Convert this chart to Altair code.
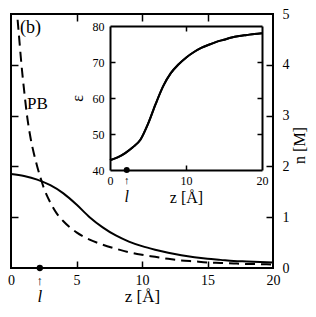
import altair as alt
import pandas as pd

# ---- data ----
z_model = [0, 1, 2, 3, 4, 5, 6, 7, 8, 9, 10, 11, 12, 13, 14, 15, 16, 17, 18, 19, 20]
n_model = [1.85, 1.81, 1.74, 1.63, 1.47, 1.25, 1.00, 0.80, 0.64, 0.52, 0.43,
           0.36, 0.30, 0.25, 0.21, 0.18, 0.16, 0.14, 0.13, 0.12, 0.11]

z_pb = [0.4, 0.5, 0.6, 0.8, 1.0, 1.25, 1.5, 1.75, 2.0, 2.25, 2.5, 3.0, 3.5, 4.0,
        5, 6, 7, 8, 9, 10, 11, 12, 13, 14, 15, 16, 17, 18, 19, 20]
n_pb = [5.2, 4.9, 4.6, 4.0, 3.5, 2.95, 2.55, 2.25, 2.0, 1.78, 1.58, 1.29, 1.07, 0.92,
        0.70, 0.56, 0.46, 0.38, 0.31, 0.26, 0.22, 0.18, 0.15, 0.13, 0.11, 0.10,
        0.09, 0.08, 0.075, 0.07]

z_eps = [0, 1, 2, 3, 4, 5, 6, 7, 8, 9, 10, 11, 12, 13, 14, 15, 16, 17, 18, 19, 20]
eps = [42.7, 43.5, 44.7, 46.3, 48.4, 52.8, 58.3, 63.3, 66.9, 69.3, 71.2, 72.7,
       73.9, 74.8, 75.6, 76.2, 76.8, 77.2, 77.5, 77.8, 78.0]

l_pos = 2.2
x_ticks_main = [0, 5, 10, 15, 20]
y_ticks_main = [0, 1, 2, 3, 4, 5]
x_ticks_inset = [0, 10, 20]
y_ticks_inset = [40, 50, 60, 70, 80]

df_model = pd.DataFrame({"z": z_model, "n": n_model})
df_pb = pd.DataFrame({"z": z_pb, "n": n_pb})
df_eps = pd.DataFrame({"z": z_eps, "eps": eps})
df_l = pd.DataFrame({"z": [l_pos]})

# ---- layout ----
PAD_L, PAD_T, PAD_R, PAD_B = 3, 6, 35, 39
W, H = 262, 254
# inset rectangle in plot-group pixels
IN_L, IN_R, IN_T, IN_B = 99, 251, 12, 156
FONT = "Liberation Serif, Times New Roman, serif"

xs = alt.Scale(domain=[0, 20], nice=False, zero=False)
ys = alt.Scale(domain=[0, 5], nice=False, zero=False)
xi = alt.Scale(domain=[0, 20], range=[IN_L, IN_R], nice=False, zero=False)
yi = alt.Scale(domain=[40, 80], range=[IN_B, IN_T], nice=False, zero=False)

tick_common = dict(labels=False, domain=False, title=None, tickColor="black",
                   tickWidth=1.5, grid=False)

# main axes
ax_x_lab = alt.Axis(orient="bottom", values=x_ticks_main, ticks=False, tickSize=0,
                    domain=False, labelFontSize=14, labelPadding=5, labelFlush=False,
                    labelFont=FONT, titleFont=FONT,
                    title="z [Å]", titleFontSize=17, titleFontWeight="normal",
                    titleX=W / 2, titleY=28, titleAlign="center", titleBaseline="middle",
                    labelColor="black", titleColor="black")
ax_y_lab = alt.Axis(orient="right", values=y_ticks_main, ticks=False, tickSize=0,
                    domain=False, labelFontSize=14, labelPadding=9, labelFlush=False,
                    labelFont=FONT, titleFont=FONT,
                    title="n [M]", titleFontSize=16, titleFontWeight="normal",
                    titleAngle=270, titleX=26, titleY=H / 2 + 4, titleAlign="center",
                    titleBaseline="middle", labelColor="black", titleColor="black")
ax_x_bot_ticks = alt.Axis(orient="top", offset=-H, values=[5, 10, 15], tickSize=7, **tick_common)
ax_x_top_ticks = alt.Axis(orient="bottom", offset=-H, values=[5, 10, 15], tickSize=7, **tick_common)
ax_y_right_ticks = alt.Axis(orient="left", offset=-W, values=[1, 2, 3, 4], tickSize=7, **tick_common)
ax_y_left_ticks = alt.Axis(orient="right", offset=-W, values=[1, 2, 3, 4], tickSize=7, **tick_common)

solid = alt.Chart(df_model).mark_line(color="black", strokeWidth=2, interpolate="monotone").encode(
    x=alt.X("z:Q", scale=xs, axis=ax_x_lab),
    y=alt.Y("n:Q", scale=ys, axis=ax_y_lab),
)
dashed = alt.Chart(df_pb).mark_line(color="black", strokeWidth=2, strokeDash=[10, 6],
                                    clip=True, interpolate="monotone").encode(
    x=alt.X("z:Q", scale=xs, axis=ax_x_bot_ticks),
    y=alt.Y("n:Q", scale=ys, axis=ax_y_right_ticks),
)
dot_main = alt.Chart(df_l).mark_circle(color="black", size=40, opacity=1).encode(
    x=alt.X("z:Q", scale=xs, axis=ax_x_top_ticks),
    y=alt.Y(datum=0, scale=ys, axis=ax_y_left_ticks),
)
arrow_main = alt.Chart(df_l).mark_text(text="↑", font=FONT, fontSize=13, dy=13,
                                       baseline="middle", color="black").encode(
    x=alt.X("z:Q", scale=xs, axis=None), y=alt.Y(datum=0, scale=ys, axis=None))
l_main = alt.Chart(df_l).mark_text(text="l", font=FONT, fontSize=17, fontStyle="italic",
                                   dy=29, baseline="middle", color="black").encode(
    x=alt.X("z:Q", scale=xs, axis=None), y=alt.Y(datum=0, scale=ys, axis=None))
label_b = alt.Chart(df_l).mark_text(text="(b)", font=FONT, fontSize=18, align="left",
                                    baseline="middle", color="black").encode(
    x=alt.X(datum=0.69, scale=xs, axis=None), y=alt.Y(datum=4.73, scale=ys, axis=None))
label_pb = alt.Chart(df_l).mark_text(text="PB", font=FONT, fontSize=17, align="left",
                                     baseline="middle", color="black").encode(
    x=alt.X(datum=1.22, scale=xs, axis=None), y=alt.Y(datum=3.22, scale=ys, axis=None))

main = alt.layer(solid, dashed, dot_main, arrow_main, l_main, label_b, label_pb).resolve_axis(
    x="independent", y="independent")

# inset axes
tick_in = dict(tickColor="black", tickWidth=1.5, grid=False)
dom_in = dict(domainColor="black", domainWidth=2)
ax_xi_lab = alt.Axis(orient="bottom", offset=-(H - IN_B), values=x_ticks_inset, ticks=False,
                     tickSize=0, domain=True, labelFontSize=12, labelPadding=5, labelFlush=False,
                     labelFont=FONT, titleFont=FONT,
                     title="z [Å]", titleFontSize=16, titleFontWeight="normal",
                     titleX=(IN_L + IN_R) / 2, titleY=27, titleAlign="center",
                     titleBaseline="middle",
                     labelColor="black", titleColor="black", grid=False, **dom_in)
ax_yi_lab = alt.Axis(orient="left", offset=-IN_L, values=y_ticks_inset, ticks=False,
                     tickSize=0, domain=True, labelFontSize=12, labelPadding=6, labelFlush=False,
                     labelFont=FONT, titleFont=FONT,
                     title="ε", titleFontSize=16, titleFontWeight="normal", titleAngle=270,
                     titleX=-33, titleY=(IN_T + IN_B) / 2, titleAlign="center",
                     titleBaseline="middle", labelColor="black", titleColor="black",
                     grid=False, **dom_in)
ax_xi_bot_ticks = alt.Axis(orient="top", offset=-IN_B, values=[10], tickSize=5, labels=False,
                           domain=False, title=None, **tick_in)
ax_yi_left_ticks = alt.Axis(orient="right", offset=-(W - IN_L), values=[50, 60, 70], tickSize=5,
                            labels=False, domain=False, title=None, **tick_in)
ax_xi_top = alt.Axis(orient="bottom", offset=-(H - IN_T), values=[10], tickSize=5, labels=False,
                     domain=True, title=None, **tick_in, **dom_in)
ax_yi_right = alt.Axis(orient="left", offset=-IN_R, values=[50, 60, 70], tickSize=5, labels=False,
                       domain=True, title=None, **tick_in, **dom_in)

eps_line = alt.Chart(df_eps).mark_line(color="black", strokeWidth=2, interpolate="monotone").encode(
    x=alt.X("z:Q", scale=xi, axis=ax_xi_lab),
    y=alt.Y("eps:Q", scale=yi, axis=ax_yi_lab),
)
eps_line2 = alt.Chart(df_eps).mark_line(color="black", strokeWidth=2, interpolate="monotone").encode(
    x=alt.X("z:Q", scale=xi, axis=ax_xi_bot_ticks),
    y=alt.Y("eps:Q", scale=yi, axis=ax_yi_left_ticks),
)
dot_in = alt.Chart(df_l).mark_circle(color="black", size=36, opacity=1).encode(
    x=alt.X("z:Q", scale=xi, axis=ax_xi_top),
    y=alt.Y(datum=40, scale=yi, axis=ax_yi_right),
)
arrow_in = alt.Chart(df_l).mark_text(text="↑", font=FONT, fontSize=11, dy=11,
                                     baseline="middle", color="black").encode(
    x=alt.X("z:Q", scale=xi, axis=None), y=alt.Y(datum=40, scale=yi, axis=None))
l_in = alt.Chart(df_l).mark_text(text="l", font=FONT, fontSize=16, fontStyle="italic",
                                 dy=27, baseline="middle", color="black").encode(
    x=alt.X("z:Q", scale=xi, axis=None), y=alt.Y(datum=40, scale=yi, axis=None))

inset = alt.layer(eps_line, eps_line2, dot_in, arrow_in, l_in).resolve_axis(
    x="independent", y="independent")

chart = alt.layer(main, inset).resolve_scale(
    x="independent", y="independent"
).properties(
    width=W, height=H,
    padding={"left": PAD_L, "top": PAD_T, "right": PAD_R, "bottom": PAD_B},
    autosize=alt.AutoSizeParams(type="none"),
).configure_view(
    stroke="black", strokeWidth=2
).configure_axis(
    labelFont=FONT, titleFont=FONT, grid=False
).configure_text(font=FONT)

chart.save("out.html", embed_options={"renderer": "svg", "actions": False})
